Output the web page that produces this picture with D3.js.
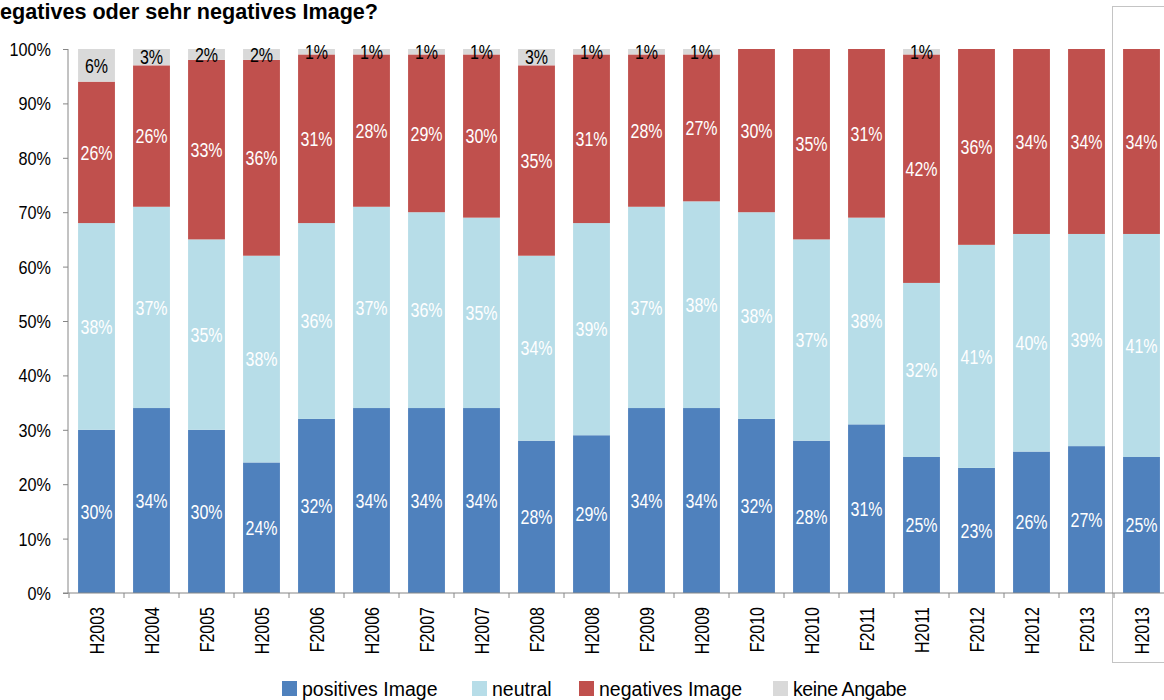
<!DOCTYPE html>
<html>
<head>
<meta charset="utf-8">
<script src="https://cdn.jsdelivr.net/npm/d3@7"></script>
<style>
  body { margin: 0; background: #fff; }
  svg { display: block; font-family: "Liberation Sans", Arial, sans-serif; }
</style>
</head>
<body>
<svg id="chart" width="1164" height="700"></svg>
<script>
const categories = ['H2003','H2004','F2005','H2005','F2006','H2006','F2007','H2007','F2008','H2008',
  'F2009','H2009','F2010','H2010','F2011','H2011','F2012','H2012','F2013','H2013']
const positiv = [30,34,30,24,32,34,34,34,28,29,34,34,32,28,31,25,23,26,27,25]
const neutral = [38,37,35,38,36,37,36,35,34,39,37,38,38,37,38,32,41,40,39,41]
const negativ = [26,26,33,36,31,28,29,30,35,31,28,27,30,35,31,42,36,34,34,34]
const keine   = [6,3,2,2,1,1,1,1,3,1,1,1,0,0,0,1,0,0,0,0]
const seriesNames = ['positives Image','neutral','negatives Image','keine Angabe']
const yTicks = [0,10,20,30,40,50,60,70,80,90,100]

const colors = ['#4F81BD','#B7DDE8','#C0504D','#D9D9D9']
const labelColors = ['#fff','#fff','#fff','#000']
const axisColor = '#868686'

const svg = d3.select('#chart')

const rows = categories.map((c, i) => ({
  cat: c, s0: positiv[i], s1: neutral[i], s2: negativ[i], s3: keine[i]
}))
const stack = d3.stack().keys(['s0','s1','s2','s3'])(rows)

const x = d3.scaleBand()
  .domain(categories)
  .range([69, 1169])
  .paddingInner(0.33)
  .paddingOuter(0.165)

const y = d3.scaleLinear()
  .domain([0, 100])
  .range([593, 49])

// title, its start is cut off in the source
svg.append('text')
  .attr('x', 0)
  .attr('y', 19)
  .attr('font-weight', 'bold')
  .attr('font-size', 21.6)
  .attr('fill', '#000')
  .text('egatives oder sehr negatives Image?')

// frame round the last column
svg.append('rect')
  .attr('x', 1112.5)
  .attr('y', 6.5)
  .attr('width', 80)
  .attr('height', 656)
  .attr('fill', 'none')
  .attr('stroke', '#c4c4c4')

// bars
const layers = svg.append('g')
  .selectAll('g')
  .data(stack)
  .join('g')
  .attr('fill', (d, i) => colors[i])

layers.selectAll('rect')
  .data(d => d)
  .join('rect')
  .attr('x', d => x(d.data.cat))
  .attr('width', x.bandwidth())
  .attr('y', d => y(d[1]))
  .attr('height', d => y(d[0]) - y(d[1]))

// value labels
stack.forEach((layer, i) => {
  svg.append('g')
    .selectAll('text')
    .data(layer.filter(d => d[1] - d[0] > 0))
    .join('text')
    .attr('transform', d => `translate(${x(d.data.cat) + x.bandwidth() / 2},${y((d[0] + d[1]) / 2)}) scale(0.8,1)`)
    .attr('text-anchor', 'middle')
    .attr('dy', '0.36em')
    .attr('font-size', 20)
    .attr('fill', labelColors[i])
    .text(d => (d[1] - d[0]) + '%')
})

// y axis
const yAxis = d3.axisLeft(y)
  .tickValues(yTicks)
  .tickSize(5)
  .tickFormat(d => d + '%')

const gy = svg.append('g')
  .attr('transform', 'translate(68,0)')
  .call(yAxis)
gy.select('.domain').attr('stroke', axisColor).attr('d', 'M0,49V593')
gy.selectAll('.tick line').attr('stroke', axisColor)
gy.selectAll('.tick text')
  .attr('fill', '#000')
  .attr('font-size', 18)
  .attr('x', null)
  .attr('dy', '0.36em')
  .attr('transform', 'translate(-17,0) scale(0.9,1)')

// x axis
const gx = svg.append('g')
  .attr('transform', 'translate(0,593)')
gx.append('line')
  .attr('x1', 63).attr('x2', 1164)
  .attr('stroke', axisColor)
gx.selectAll('line.tk')
  .data(d3.range(categories.length + 1))
  .join('line')
  .attr('class', 'tk')
  .attr('x1', i => 69 + i * x.step())
  .attr('x2', i => 69 + i * x.step())
  .attr('y1', 0).attr('y2', 5)
  .attr('stroke', axisColor)
gx.selectAll('text')
  .data(categories)
  .join('text')
  .attr('transform', d => `translate(${x(d) + x.bandwidth() / 2},14) rotate(-90) scale(0.8,1)`)
  .attr('text-anchor', 'end')
  .attr('dy', '0.36em')
  .attr('font-size', 20)
  .attr('fill', '#000')
  .text(d => d)

// legend
const legendX = [282, 472, 579, 773]
const legend = svg.append('g').attr('transform', 'translate(0,681)')
seriesNames.forEach((name, i) => {
  const g = legend.append('g').attr('transform', `translate(${legendX[i]},0)`)
  g.append('rect').attr('width', 15).attr('height', 15).attr('fill', colors[i])
  g.append('text')
    .attr('x', 20)
    .attr('y', 15)
    .attr('font-size', 19.5)
    .attr('fill', '#000')
    .attr('letter-spacing', i === 3 ? -0.4 : 0)
    .text(name)
})
</script>
</body>
</html>
